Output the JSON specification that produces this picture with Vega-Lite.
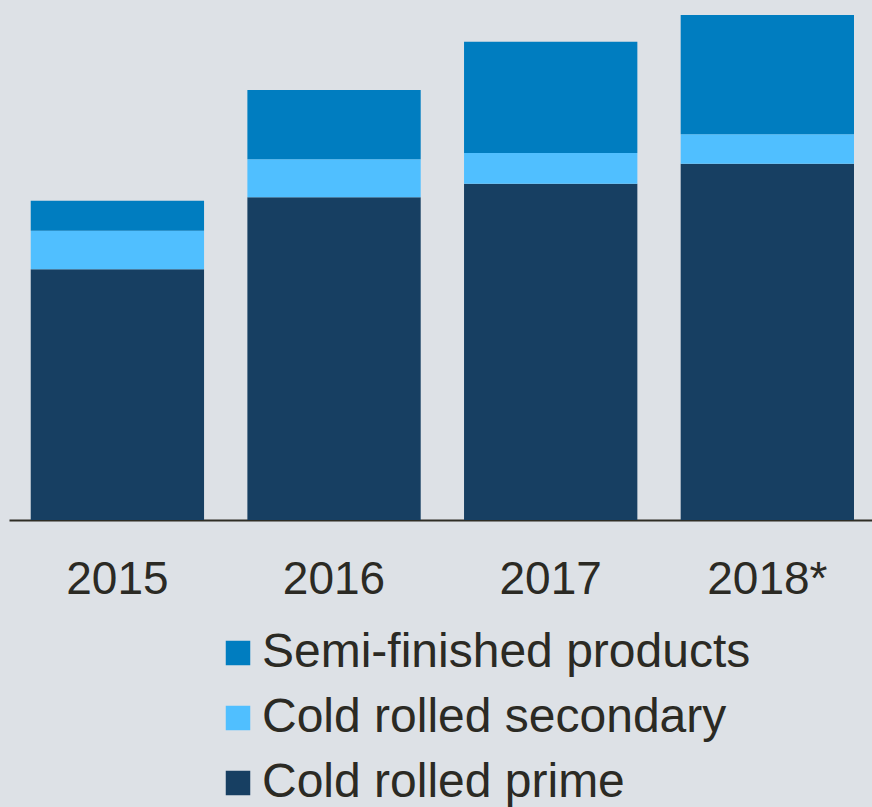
{
  "$schema": "https://vega.github.io/schema/vega-lite/v6.json",
  "width": 863,
  "height": 505,
  "autosize": {"type": "none"},
  "padding": {"left": 9, "top": 15, "right": 0, "bottom": 287},
  "background": "#dde1e6",
  "config": {
    "view": {"stroke": null},
    "font": "Liberation Sans"
  },
  "data": {
    "values": [
      {"year": "2015", "segment": "Cold rolled prime", "rank": 1, "value": 250.7},
      {"year": "2015", "segment": "Cold rolled secondary", "rank": 2, "value": 38.6},
      {"year": "2015", "segment": "Semi-finished products", "rank": 3, "value": 30.0},
      {"year": "2016", "segment": "Cold rolled prime", "rank": 1, "value": 322.7},
      {"year": "2016", "segment": "Cold rolled secondary", "rank": 2, "value": 38.0},
      {"year": "2016", "segment": "Semi-finished products", "rank": 3, "value": 69.3},
      {"year": "2017", "segment": "Cold rolled prime", "rank": 1, "value": 336.3},
      {"year": "2017", "segment": "Cold rolled secondary", "rank": 2, "value": 30.7},
      {"year": "2017", "segment": "Semi-finished products", "rank": 3, "value": 111.3},
      {"year": "2018*", "segment": "Cold rolled prime", "rank": 1, "value": 356.3},
      {"year": "2018*", "segment": "Cold rolled secondary", "rank": 2, "value": 29.4},
      {"year": "2018*", "segment": "Semi-finished products", "rank": 3, "value": 119.3}
    ]
  },
  "mark": {"type": "bar"},
  "encoding": {
    "x": {
      "field": "year",
      "type": "nominal",
      "sort": null,
      "scale": {"paddingInner": 0.2, "paddingOuter": 0.0917, "align": 0.547},
      "axis": {
        "title": null,
        "labelAngle": 0,
        "ticks": false,
        "tickSize": 0,
        "labelPadding": 73,
        "labelBaseline": "alphabetic",
        "labelFontSize": 46,
        "labelColor": "#2b2a24",
        "domainColor": "#2f2d25",
        "domainWidth": 2,
        "grid": false
      }
    },
    "y": {
      "field": "value",
      "type": "quantitative",
      "stack": "zero",
      "scale": {"domain": [0, 505], "nice": false},
      "axis": null
    },
    "order": {"field": "rank", "type": "quantitative", "sort": "ascending"},
    "color": {
      "field": "segment",
      "type": "nominal",
      "scale": {
        "domain": ["Semi-finished products", "Cold rolled secondary", "Cold rolled prime"],
        "range": ["#007dc0", "#50bfff", "#173f62"]
      },
      "legend": {
        "title": null,
        "orient": "none",
        "legendX": 205,
        "legendY": 614,
        "direction": "vertical",
        "symbolType": "square",
        "symbolSize": 600,
        "symbolStrokeWidth": 0,
        "symbolOpacity": 1,
        "labelFontSize": 48,
        "labelColor": "#2b2a24",
        "labelOffset": 0,
        "labelLimit": 0,
        "rowPadding": 17,
        "padding": 0
      }
    }
  }
}
